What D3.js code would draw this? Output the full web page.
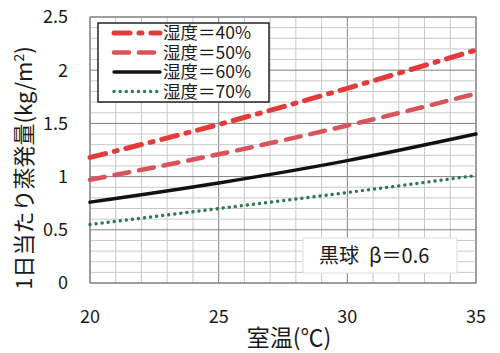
<!DOCTYPE html>
<html>
<head>
<meta charset="utf-8">
<script src="https://cdn.jsdelivr.net/npm/d3@7"></script>
<style>
  body { margin: 0; background: #fff; }
  text { font-family: "Noto Sans CJK JP", "Noto Sans", sans-serif; fill: #1a1a1a; }
</style>
</head>
<body>
<div id="chart"></div>
<script>
const width = 500, height = 353;
const margin = {top: 17, right: 24, bottom: 70, left: 90};

// data
const temps = [20, 25, 30, 35];
const rh40 = [1.18, 1.49, 1.83, 2.19];
const rh50 = [0.97, 1.21, 1.48, 1.78];
const rh60 = [0.76, 0.94, 1.15, 1.40];
const rh70 = [0.55, 0.70, 0.85, 1.01];
const xTicks = [20, 25, 30, 35];
const yTicks = [0, 0.5, 1, 1.5, 2, 2.5];

const series = [
  {name: "湿度＝40%", values: rh40, color: "#e53a3a", width: 5, dash: "16,9,3,9"},
  {name: "湿度＝50%", values: rh50, color: "#d9535c", width: 4.5, dash: "15,10"},
  {name: "湿度＝60%", values: rh60, color: "#111", width: 3.5, dash: null},
  {name: "湿度＝70%", values: rh70, color: "#2e7a4c", width: 3.4, dash: "0.1,6"}
];

const x = d3.scaleLinear().domain([20, 35]).range([margin.left, width - margin.right]);
const y = d3.scaleLinear().domain([0, 2.5]).range([height - margin.bottom, margin.top]);

const svg = d3.select("#chart").append("svg")
  .attr("width", width).attr("height", height);

// grid
const g = svg.append("g");
g.selectAll("line.vmin")
  .data(d3.range(20, 35.01, 1))
  .join("line")
  .attr("x1", d => x(d)).attr("x2", d => x(d))
  .attr("y1", y(0)).attr("y2", y(2.5))
  .attr("stroke", d => d % 5 === 0 ? "#808080" : "#c8c8c8")
  .attr("stroke-width", 1);
g.selectAll("line.hmin")
  .data(d3.range(0, 26).map(i => i / 10))
  .join("line")
  .attr("y1", d => y(d)).attr("y2", d => y(d))
  .attr("x1", x(20)).attr("x2", x(35))
  .attr("stroke", (d, i) => i % 5 === 0 ? "#808080" : "#c8c8c8")
  .attr("stroke-width", 1);
svg.append("rect")
  .attr("x", x(20)).attr("y", y(2.5))
  .attr("width", x(35) - x(20)).attr("height", y(0) - y(2.5))
  .attr("fill", "none").attr("stroke", "#888").attr("stroke-width", 1.2);

// axes labels
svg.append("g").selectAll("text")
  .data(yTicks)
  .join("text")
  .attr("x", 68).attr("y", d => y(d))
  .attr("dy", "0.35em")
  .attr("text-anchor", "end")
  .attr("font-size", 18)
  .text(d => d);
svg.append("g").selectAll("text")
  .data(xTicks)
  .join("text")
  .attr("x", d => x(d)).attr("y", 323)
  .attr("text-anchor", "middle")
  .attr("font-size", 18)
  .text(d => d);

svg.append("text")
  .attr("x", 289).attr("y", 346)
  .attr("text-anchor", "middle")
  .attr("font-size", 23)
  .text("室温(℃)");

svg.append("text")
  .attr("transform", "translate(32,168) rotate(-90)")
  .attr("text-anchor", "middle")
  .attr("font-size", 22)
  .html("1日当たり蒸発量(kg/m<tspan dy='-8' font-size='14'>2</tspan><tspan dy='8'>)</tspan>");

// lines
const line = d3.line()
  .x((d, i) => x(temps[i]))
  .y(d => y(d))
  .curve(d3.curveMonotoneX);

svg.append("g").selectAll("path")
  .data(series)
  .join("path")
  .attr("d", d => line(d.values))
  .attr("fill", "none")
  .attr("stroke", d => d.color)
  .attr("stroke-width", d => d.width)
  .attr("stroke-dasharray", d => d.dash)
  .attr("stroke-linecap", "round");

// legend
const lg = svg.append("g");
lg.append("rect")
  .attr("x", 98).attr("y", 23).attr("width", 171).attr("height", 79)
  .attr("fill", "#fff").attr("stroke", "#222").attr("stroke-width", 1.5);
const items = lg.selectAll("g")
  .data(series)
  .join("g")
  .attr("transform", (d, i) => `translate(0,${33 + i * 19.5})`);
items.append("line")
  .attr("x1", 114).attr("x2", 160)
  .attr("stroke", d => d.color)
  .attr("stroke-width", d => d.width)
  .attr("stroke-dasharray", d => d.dash)
  .attr("stroke-linecap", "round");
items.append("text")
  .attr("x", 163).attr("dy", "0.35em")
  .attr("font-size", 17.5)
  .text(d => d.name);

// annotation
svg.append("rect")
  .attr("x", 303).attr("y", 238).attr("width", 154).attr("height", 35)
  .attr("fill", "#fff").attr("stroke", "#ddd");
svg.append("text")
  .attr("x", 319).attr("y", 256).attr("dy", "0.35em")
  .attr("font-size", 20)
  .text("黒球\u2002β＝0.6");
</script>
</body>
</html>
